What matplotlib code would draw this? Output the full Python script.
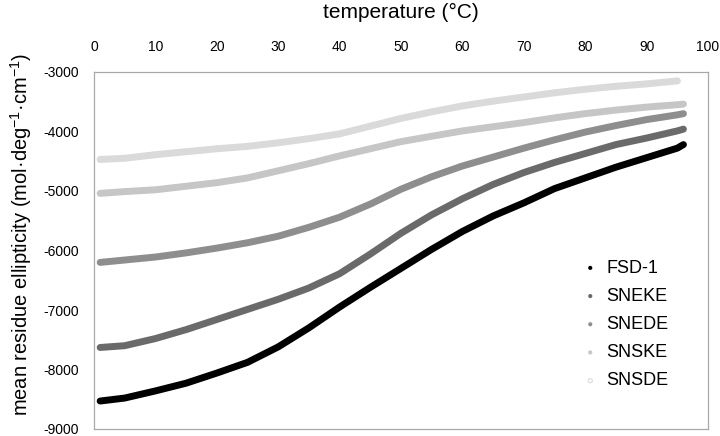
import matplotlib.pyplot as plt

plt.rcParams['font.family'] = ['Liberation Sans', 'DejaVu Sans']
plt.rcParams['axes.unicode_minus'] = False

# readings at fixed temperatures
temp = [1, 5, 10, 15, 20, 25, 30, 35, 40, 45, 50, 55, 60, 65, 70, 75, 80, 85, 90, 95, 96]
fsd1 = [-8530, -8480, -8360, -8230, -8060, -7880, -7620, -7300, -6950, -6620, -6300,
        -5980, -5680, -5420, -5200, -4960, -4780, -4600, -4440, -4280, -4220]
sneke = [-7630, -7600, -7480, -7330, -7160, -6990, -6820, -6630, -6390, -6060, -5710,
         -5400, -5130, -4890, -4690, -4520, -4370, -4220, -4110, -3990, -3960]
snede = [-6200, -6160, -6110, -6040, -5960, -5870, -5760, -5610, -5440, -5220, -4970,
         -4760, -4580, -4430, -4280, -4140, -4010, -3900, -3800, -3720, -3700]
snske = [-5040, -5010, -4980, -4920, -4860, -4780, -4660, -4540, -4410, -4290, -4170,
         -4080, -3990, -3920, -3850, -3770, -3700, -3640, -3590, -3550, -3540]
temp_sd = temp[:-1]
snsde = [-4470, -4450, -4390, -4340, -4290, -4250, -4190, -4120, -4040, -3910, -3780,
         -3670, -3570, -3490, -3420, -3350, -3290, -3240, -3200, -3150]

series = [
    ('FSD-1', temp, fsd1, '#000000', '#000000'),
    ('SNEKE', temp, sneke, '#6a6a6a', '#6a6a6a'),
    ('SNEDE', temp, snede, '#8e8e8e', '#8e8e8e'),
    ('SNSKE', temp, snske, '#c6c6c6', '#c6c6c6'),
    ('SNSDE', temp_sd, snsde, '#dadada', 'none'),
]

fig = plt.figure(figsize=(7.2, 4.36), dpi=100)
ax = fig.add_axes([94 / 720, 1 - 429 / 436, 614 / 720, 357 / 436])

for name, t, v, col, face in series:
    ax.plot(t, v, color=col, lw=5, solid_capstyle='round', solid_joinstyle='round',
            label='_nolegend_', zorder=2)
    ax.scatter(t, v, s=14, color=face, edgecolors=col if face == 'none' else 'none',
               linewidths=0.8, label=name, zorder=3)

ax.set_xlim(0, 100)
ax.set_ylim(-9000, -3000)
ax.set_xticks(range(0, 101, 10))
ax.set_yticks(range(-9000, -2999, 1000))
ax.xaxis.tick_top()
ax.xaxis.set_label_position('top')
ax.tick_params(length=0, labelsize=10)
ax.tick_params(axis='x', pad=13)
ax.tick_params(axis='y', pad=11)
for s in ax.spines.values():
    s.set_color('#a8a8a8')
    s.set_linewidth(0.9)

ax.set_xlabel('temperature (°C)', fontsize=15, labelpad=16)
ax.set_ylabel('mean residue ellipticity (mol·deg$^{\\mathregular{-1}}$·cm$^{\\mathregular{-1}}$)',
              fontsize=14.5)
ax.yaxis.set_label_coords(-0.098, 0.545)

ax.legend(loc='upper left', bbox_to_anchor=(0.77, 0.52), frameon=False, fontsize=13,
          labelspacing=0.62, handletextpad=0.5, handlelength=0.8, markerscale=0.8)

fig.savefig('out.png', dpi=100)
